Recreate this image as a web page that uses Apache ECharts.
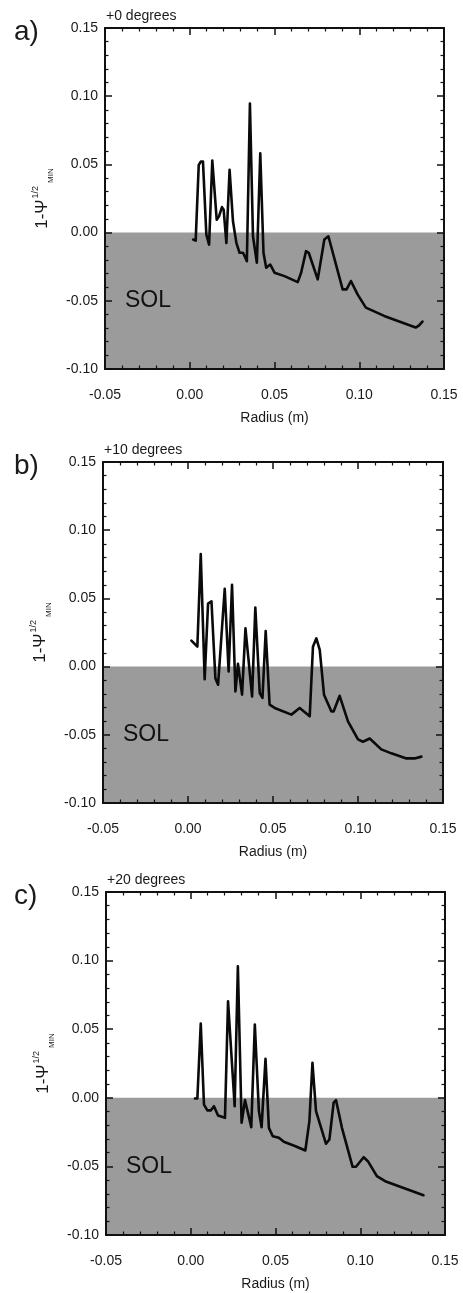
<!DOCTYPE html>
<html>
<head>
<meta charset="utf-8">
<script src="https://cdn.jsdelivr.net/npm/echarts@6/dist/echarts.min.js"></script>
<style>
html,body{margin:0;padding:0;background:#fff;}
#chart{width:463px;height:1293px;}
</style>
</head>
<body>
<div id="chart"></div>
<script>
// ---- data ----
var panelLetters = ['a)', 'b)', 'c)'];
var panelTitles = ['+0 degrees', '+10 degrees', '+20 degrees'];
var xTicks = [-0.05, 0.00, 0.05, 0.10, 0.15];
var yTicks = [-0.10, -0.05, 0.00, 0.05, 0.10, 0.15];

var radiusA = [0.0020,0.0035,0.0053,0.0065,0.0078,0.0098,0.0114,0.0133,0.0159,0.0173,0.0190,0.0200,0.0216,0.0235,0.0255,0.0275,0.0294,0.0314,0.0324,0.0337,0.0355,0.0373,0.0396,0.0416,0.0435,0.0451,0.0475,0.0500,0.0559,0.0637,0.0657,0.0686,0.0702,0.0755,0.0794,0.0818,0.0902,0.0925,0.0951,0.0990,0.1039,0.1147,0.1333,0.1353,0.1373];
var psiA    = [-0.0051,-0.0059,0.0496,0.0520,0.0520,-0.0015,-0.0088,0.0528,0.0095,0.0120,0.0187,0.0168,-0.0075,0.0460,0.0083,-0.0075,-0.0148,-0.0148,-0.0173,-0.0210,0.0946,-0.0027,-0.0221,0.0582,-0.0148,-0.0258,-0.0234,-0.0294,-0.0319,-0.0363,-0.0294,-0.0136,-0.0148,-0.0343,-0.0051,-0.0027,-0.0416,-0.0416,-0.0355,-0.0453,-0.0550,-0.0611,-0.0696,-0.0680,-0.0652];

var radiusB = [0.0020,0.0055,0.0075,0.0098,0.0118,0.0138,0.0161,0.0177,0.0216,0.0239,0.0259,0.0279,0.0294,0.0318,0.0338,0.0377,0.0396,0.0422,0.0438,0.0457,0.0480,0.0510,0.0608,0.0657,0.0716,0.0735,0.0755,0.0775,0.0800,0.0843,0.0857,0.0892,0.0941,0.1000,0.1029,0.1069,0.1137,0.1196,0.1285,0.1333,0.1373];
var psiB    = [0.0190,0.0146,0.0826,-0.0092,0.0462,0.0479,-0.0085,-0.0133,0.0571,-0.0036,0.0600,-0.0182,0.0020,-0.0206,0.0280,-0.0219,0.0433,-0.0194,-0.0230,0.0260,-0.0279,-0.0303,-0.0352,-0.0303,-0.0364,0.0146,0.0207,0.0122,-0.0206,-0.0328,-0.0328,-0.0214,-0.0401,-0.0534,-0.0551,-0.0527,-0.0607,-0.0636,-0.0673,-0.0673,-0.0660];

var radiusC = [0.0025,0.0039,0.0059,0.0078,0.0098,0.0118,0.0137,0.0161,0.0202,0.0220,0.0259,0.0278,0.0300,0.0320,0.0357,0.0378,0.0402,0.0418,0.0441,0.0461,0.0484,0.0520,0.0549,0.0618,0.0676,0.0700,0.0718,0.0739,0.0798,0.0818,0.0843,0.0857,0.0892,0.0955,0.0975,0.1020,0.1045,0.1098,0.1147,0.1373];
var psiC    = [-0.0005,-0.0005,0.0542,-0.0049,-0.0092,-0.0092,-0.0061,-0.0129,-0.0146,0.0704,-0.0061,0.0959,-0.0182,-0.0017,-0.0214,0.0534,-0.0097,-0.0214,0.0284,-0.0219,-0.0280,-0.0292,-0.0321,-0.0353,-0.0384,-0.0170,0.0255,-0.0097,-0.0335,-0.0304,-0.0036,-0.0017,-0.0219,-0.0503,-0.0503,-0.0433,-0.0462,-0.0571,-0.0608,-0.0710];

var radii = [radiusA, radiusB, radiusC];
var psis = [psiA, psiB, psiC];

// ---- layout ----
var grids = [
  {left:105, top:28,  width:339, height:341},
  {left:103, top:462, width:340, height:341},
  {left:106, top:892, width:339, height:343}
];
var FONT = 'Liberation Sans, Arial, Helvetica, sans-serif';
var TXT = '#1a1a1a';

function fmt(v){ return (Math.abs(v) < 1e-9 ? 0 : v).toFixed(2); }

var xAxes = [], yAxes = [], series = [], graphics = [];
grids.forEach(function(g, i){
  var common = {
    type:'value', gridIndex:i, z:5,
    axisLine:{show:true, onZero:false, lineStyle:{color:'#111', width:2}},
    axisTick:{show:true, inside:true, length:7, lineStyle:{color:'#111', width:1.5}},
    minorTick:{show:true, splitNumber:5, length:3.5, lineStyle:{color:'#111', width:1.2}},
    splitLine:{show:false}
  };
  xAxes.push(Object.assign({}, common, {
    position:'bottom', min:xTicks[0], max:xTicks[xTicks.length-1], interval:0.05,
    axisLabel:{show:true, margin:19, fontSize:14, color:TXT, fontFamily:FONT, formatter:fmt},
    name:'Radius (m)', nameLocation:'middle', nameGap:42,
    nameTextStyle:{fontSize:14, color:TXT, fontFamily:FONT}
  }));
  xAxes.push(Object.assign({}, common, {
    position:'top', min:xTicks[0], max:xTicks[xTicks.length-1], interval:0.05,
    axisLabel:{show:false}
  }));
  yAxes.push(Object.assign({}, common, {
    position:'left', min:yTicks[0], max:yTicks[yTicks.length-1], interval:0.05,
    axisLabel:{show:true, margin:7, fontSize:14, color:TXT, fontFamily:FONT, formatter:fmt},
    name:'{m|1-Ψ}{s|1/2}{b|MIN}', nameLocation:'middle', nameGap:50, nameRotate:90,
    nameTextStyle:{
      color:TXT, fontFamily:FONT,
      rich:{
        m:{fontSize:17, color:TXT, fontFamily:FONT, lineHeight:26, verticalAlign:'middle'},
        s:{fontSize:9, color:TXT, fontFamily:FONT, verticalAlign:'top', lineHeight:26, padding:[2,0,0,1]},
        b:{fontSize:8, color:TXT, fontFamily:FONT, verticalAlign:'bottom', lineHeight:26, padding:[0,0,0,3]}
      }
    }
  }));
  yAxes.push(Object.assign({}, common, {
    position:'right', min:yTicks[0], max:yTicks[yTicks.length-1], interval:0.05,
    axisLabel:{show:false}
  }));

  var pts = radii[i].map(function(x, k){ return [x, psis[i][k]]; });

  // SOL shaded region
  series.push({
    type:'line', xAxisIndex:2*i, yAxisIndex:2*i, data:[], z:1, silent:true,
    markArea:{
      silent:true,
      itemStyle:{color:'#9b9b9b', opacity:1},
      label:{show:true, position:'insideLeft', distance:20, formatter:'SOL', fontSize:23, color:'#111', fontFamily:FONT},
      data:[[{xAxis:xTicks[0], yAxis:yTicks[0]}, {xAxis:xTicks[xTicks.length-1], yAxis:0}]]
    }
  });
  series.push({
    type:'line', xAxisIndex:2*i, yAxisIndex:2*i, data:pts, z:3,
    symbol:'none', smooth:false,
    lineStyle:{color:'#0a0a0a', width:2.6, join:'round', cap:'round'}
  });

  graphics.push({
    type:'text', left:g.left + 1, top:g.top - 19,
    style:{text:panelTitles[i], fill:TXT, font:'14px ' + FONT}
  });
  graphics.push({
    type:'text', left:14, top:g.top - 10,
    style:{text:panelLetters[i], fill:TXT, font:'28px ' + FONT}
  });
});

var chart = echarts.init(document.getElementById('chart'), null, {renderer:'canvas'});
chart.setOption({
  backgroundColor:'#ffffff',
  animation:false,
  grid:grids,
  xAxis:xAxes,
  yAxis:yAxes,
  series:series,
  graphic:graphics
});
</script>
</body>
</html>
